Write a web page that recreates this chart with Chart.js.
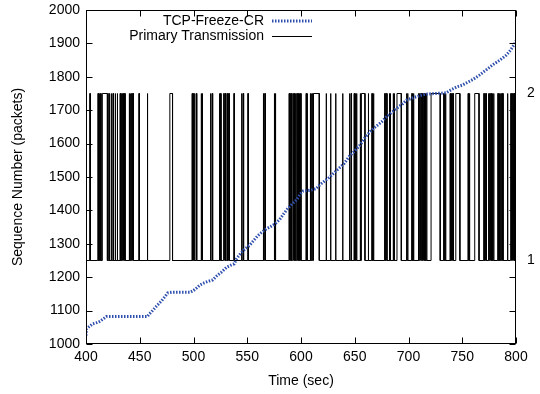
<!DOCTYPE html>
<html><head><meta charset="utf-8">
<script src="https://cdn.jsdelivr.net/npm/chart.js@4.4.0/dist/chart.umd.min.js"></script>
<style>html,body{margin:0;padding:0;background:#fff;} #wrap{width:540px;height:394px;}</style>
</head><body><div id="wrap"><canvas id="c" width="540" height="394"></canvas></div>
<script>
// ---- data ----
const seriesNames = ['TCP-Freeze-CR', 'Primary Transmission'];
const tcpTime = [400,400.5,403,406,410,413,416,419,430,445,457,459,462,466,470,473,476,480,490,497,500,503,506,510,514,518,522,526,531,536,538,540,544,548,552,556,560,564,568,572,576,580,584,588,592,596,599,602,608,614,618,622,626,630,635,640,645,650,655,660,665,670,675,680,685,690,695,698,705,710,716,725,735,740,745,750,754,760,766,772,778,785,791,795,799,800];
const tcpSeq  = [1025,1045,1052,1060,1064,1068,1075,1082,1082,1082,1082,1090,1100,1115,1128,1140,1153,1155,1155,1155,1160,1168,1177,1183,1188,1192,1205,1215,1230,1238,1240,1255,1272,1285,1295,1310,1325,1336,1345,1352,1360,1372,1390,1407,1420,1432,1448,1458,1460,1465,1478,1488,1498,1510,1525,1540,1562,1578,1596,1620,1638,1652,1665,1682,1695,1708,1720,1730,1738,1743,1748,1750,1752,1762,1770,1775,1782,1792,1805,1820,1835,1850,1865,1880,1900,1908];
// primary transmission: intervals spent on interface 2 (otherwise interface 1)
const pulseStart = [403.5,411,412.3,413.5,415.2,421.2,423.3,425,427,429,431.6,432.8,434,435,436,440,441.2,442.4,443.5,449.2,457,
  478,498.6,500,502.3,507,508,515.6,517.2,524,525.1,528,529.3,531,
  532.5,537.5,544.5,546,550.5,564.7,566.2,575,576,588.8,590.3,592.3,593.4,594.6,596,597,598.2,599.4,
  604.6,605.6,608.4,609.6,610.8,611.8,623.3,627.4,632.1,638.6,645,646.5,649.3,650.5,651.5,655,656.2,662.5,665.8,667.2,
  677.8,679.3,682,683,685.6,686.6,689.3,698,699,703,704.4,709,710.3,711.6,713,714.3,715.5,716.6,721,732.7,734.2,
  738.6,740,741.2,744,755.3,756.5,761.6,770,771.6,774.2,775.4,776.6,777.8,779,783,784.2,785.4,786.6,787.6,792,795,796,797,798,799.2];
const pulseEnd = [404.0,411.6,412.9,414.0,419.9,421.6,423.7,425.5,427.5,429.4,432.2,433.4,434.6,435.4,436.4,440.6,441.8,443,444.2,449.6,457.4,
  480.5,499.2,500.6,503,507.5,508.5,516.2,517.8,524.5,525.6,528.5,529.8,531.6,
  533.3,538,545.1,546.6,551,565.3,566.8,575.5,576.5,589.5,591,592.8,594,595.3,596.5,597.6,598.8,600,
  605.2,606,609,610.2,611.3,617,623.7,627.8,632.5,639,645.5,647,649.9,651,652,655.4,659.5,662.9,666.4,667.8,
  678.3,680,682.5,683.4,686.1,687,693.3,698.5,699.5,703.5,705,709.5,710.8,712.4,713.6,714.8,716,717.2,729.5,733.2,734.8,
  739.2,740.6,741.7,747.8,756,757,765.6,770.5,772.4,774.8,776,777.2,778.4,779.5,783.6,784.8,786,787.2,788,792.4,795.5,796.5,797.5,798.6,799.7];
const interfaceLevels = [1250, 1750];   // y position used for interface 1 / interface 2
const rightTickLabels = ['1', '2'];
const xRange = [400, 800], yRange = [1000, 2000];

// ---- build datasets from the arrays ----
const tcpPts = tcpTime.map((t, i) => ({x: t, y: tcpSeq[i]}));
const primPts = [{x: xRange[0], y: interfaceLevels[0]}];
pulseStart.forEach((s, i) => {
  primPts.push({x: s, y: interfaceLevels[0]}, {x: s, y: interfaceLevels[1]},
               {x: pulseEnd[i], y: interfaceLevels[1]}, {x: pulseEnd[i], y: interfaceLevels[0]});
});
primPts.push({x: xRange[1], y: interfaceLevels[0]});

const FONT = {family: "'Liberation Sans', Arial, sans-serif", size: 14};
const BLUE = '#2f4fae';

const framePlugin = {
  id: 'frame',
  afterDraw(chart) {
    const {ctx, chartArea: a, scales} = chart;
    ctx.save();
    ctx.strokeStyle = '#000';
    ctx.lineWidth = 1;
    const L = Math.round(a.left) + 0.5, R = Math.round(a.right) - 0.5, T = Math.round(a.top) + 0.5, B = Math.round(a.bottom) - 0.5;
    ctx.strokeRect(L, T, R - L, B - T);
    const tl = 6;
    ctx.beginPath();
    scales.x.ticks.forEach(t => {
      const px = Math.round(scales.x.getPixelForValue(t.value)) + 0.5;
      ctx.moveTo(px, B); ctx.lineTo(px, B - tl);
      ctx.moveTo(px, T); ctx.lineTo(px, T + tl);
    });
    scales.y.ticks.forEach(t => {
      const py = Math.round(scales.y.getPixelForValue(t.value)) + 0.5;
      ctx.moveTo(L, py); ctx.lineTo(L + tl, py);
      ctx.moveTo(R, py); ctx.lineTo(R - tl, py);
    });
    ctx.stroke();
    // legend (text then sample, gnuplot style)
    ctx.font = `${FONT.size}px ${FONT.family}`;
    ctx.fillStyle = '#000';
    ctx.textAlign = 'right';
    ctx.textBaseline = 'middle';
    const tx = 264, sx0 = 272, sx1 = 312, rows = [21, 36];
    ctx.fillText(seriesNames[0], tx, rows[0]);
    ctx.fillText(seriesNames[1], tx, rows[1]);
    ctx.beginPath();
    ctx.setLineDash([1.5, 1.5]);
    ctx.strokeStyle = BLUE; ctx.lineWidth = 3;
    ctx.moveTo(sx0, rows[0]); ctx.lineTo(sx1, rows[0]); ctx.stroke();
    ctx.setLineDash([]);
    ctx.beginPath();
    ctx.strokeStyle = '#000'; ctx.lineWidth = 1;
    ctx.moveTo(sx0, rows[1] + 0.5); ctx.lineTo(sx1, rows[1] + 0.5); ctx.stroke();
    ctx.restore();
  }
};

const noPadV = s => { s.paddingTop = 0; s.paddingBottom = 0; };

new Chart(document.getElementById('c'), {
  type: 'line',
  data: {
    datasets: [
      {label: seriesNames[1], data: primPts, borderColor: '#000', borderWidth: 1, pointRadius: 0, tension: 0, order: 2},
      {label: seriesNames[0], data: tcpPts, borderColor: BLUE, borderWidth: 3, borderDash: [1.5, 1.5], borderCapStyle: 'butt', pointRadius: 0, tension: 0, order: 1}
    ]
  },
  options: {
    responsive: false, animation: false, devicePixelRatio: 1,
    layout: {padding: {top: 10, left: 0, right: 0, bottom: 0}},
    plugins: {legend: {display: false}, tooltip: {enabled: false}},
    scales: {
      x: {
        type: 'linear', min: xRange[0], max: xRange[1],
        grid: {display: false, drawTicks: false, tickLength: 0}, border: {display: false},
        ticks: {stepSize: 50, font: FONT, color: '#000', padding: 5, maxRotation: 0, callback: v => String(v)},
        title: {display: true, text: 'Time (sec)', font: FONT, color: '#000', padding: {top: 0, bottom: 4}},
        afterFit: s => { s.height = 50; s.paddingLeft = 0; s.paddingRight = 0; }
      },
      y: {
        type: 'linear', position: 'left', min: yRange[0], max: yRange[1],
        grid: {display: false, drawTicks: false, tickLength: 0}, border: {display: false},
        ticks: {stepSize: 100, font: FONT, color: '#000', padding: 6, callback: v => String(v)},
        title: {display: true, text: 'Sequence Number (packets)', font: FONT, color: '#000', padding: {top: 10, bottom: 0}},
        afterFit: s => { s.width = 86; noPadV(s); }
      },
      y2: {
        type: 'linear', position: 'right', display: true, min: yRange[0], max: yRange[1],
        grid: {display: false, drawTicks: false, tickLength: 0}, border: {display: false},
        afterBuildTicks: s => { s.ticks = interfaceLevels.map(v => ({value: v})); },
        ticks: {font: FONT, color: '#000', padding: 11, callback: (v, i) => rightTickLabels[i]},
        afterFit: s => { s.width = 24; noPadV(s); }
      }
    }
  },
  plugins: [framePlugin]
});
</script>
</body></html>
